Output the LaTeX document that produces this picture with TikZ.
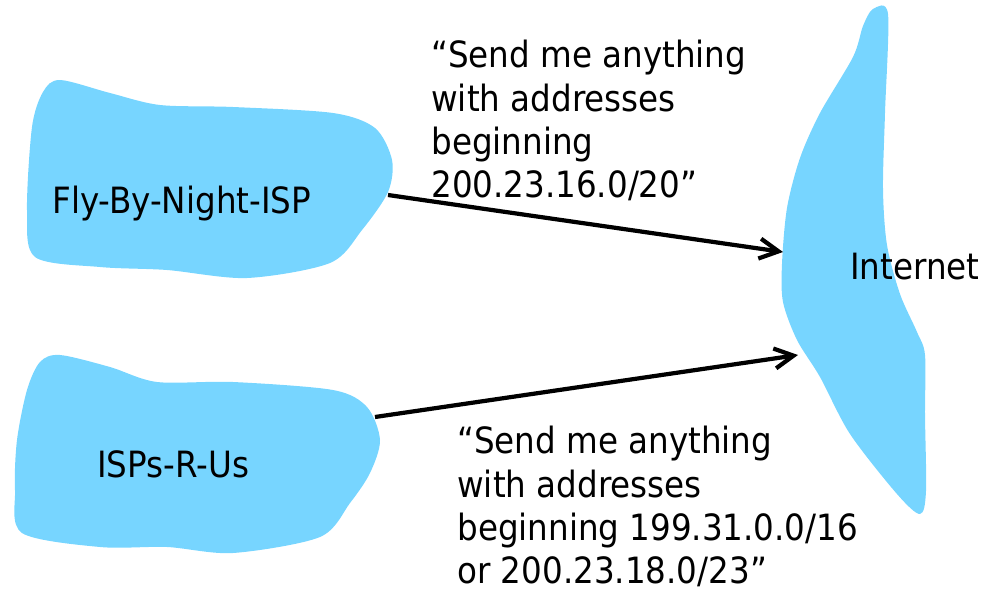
\documentclass[tikz,border=0pt]{standalone}
\usepackage{fontspec}
\setmainfont{DejaVu Sans Condensed}
\usetikzlibrary{positioning,arrows.meta}

\definecolor{cloudblue}{RGB}{119,213,255}
\tikzset{
    cloud/.style={fill=cloudblue, draw=none},
    label/.style={inner sep=0pt, font=\fontsize{20.6}{24.6}\selectfont},
    msg/.style={label, align=left, anchor=north west},
    announce/.style={line width=2.4pt, -{Straight Barb[length=3.8mm, width=4mm]}},
}

\begin{document}
\begin{tikzpicture}[x=0.02cm, y=-0.02cm]

    \useasboundingbox (0,0) rectangle (988,592);

    % the three networks
    \fill[cloud] plot[smooth cycle] coordinates {(60,80) (110,93) (160,105) (233,107) (333,113) (375,128) (392,160) (388,192) (362,230) (330,263) (247,278) (167,270) (100,267) (35,257) (27,210) (32,127) (43,92)};
    \fill[cloud] plot[smooth cycle] coordinates {(60,355) (110,367) (157,382) (233,382) (333,390) (367,407) (380,440) (370,473) (350,503) (320,537) (233,553) (167,547) (100,547) (22,533) (15,490) (17,440) (27,390) (40,362)};
    \fill[cloud] plot[smooth cycle] coordinates {(873,9) (888,14) (885,113) (883,189) (887,245) (900,294) (917,332) (925,355) (925,415) (926,491) (920,514) (897,494) (850,434) (820,377) (797,340) (783,302) (782,264) (787,208) (800,158) (820,113) (853,57) (863,26)};

    \node (fbn) [label, anchor=base west] at (52,213) {Fly-By-Night-ISP};
    \node (rus) [label, anchor=base west] at (97,477) {ISPs-R-Us};
    \node (inet) [label, anchor=base west] at (850,279) {Internet};

    \node (msg1) [msg] at (431,40) {“Send me anything\\with addresses\\beginning\\200.23.16.0/20”};
    \node (msg2) [msg] at (457,426) {“Send me anything\\with addresses\\beginning 199.31.0.0/16\\or 200.23.18.0/23”};

    \coordinate (fbn out) at (388,195);
    \coordinate (rus out) at (375,417);
    \coordinate (inet in1) at (783,252);
    \coordinate (inet in2) at (798,355);

    \draw[announce] (fbn out) -- (inet in1);
    \draw[announce] (rus out) -- (inet in2);

\end{tikzpicture}
\end{document}
